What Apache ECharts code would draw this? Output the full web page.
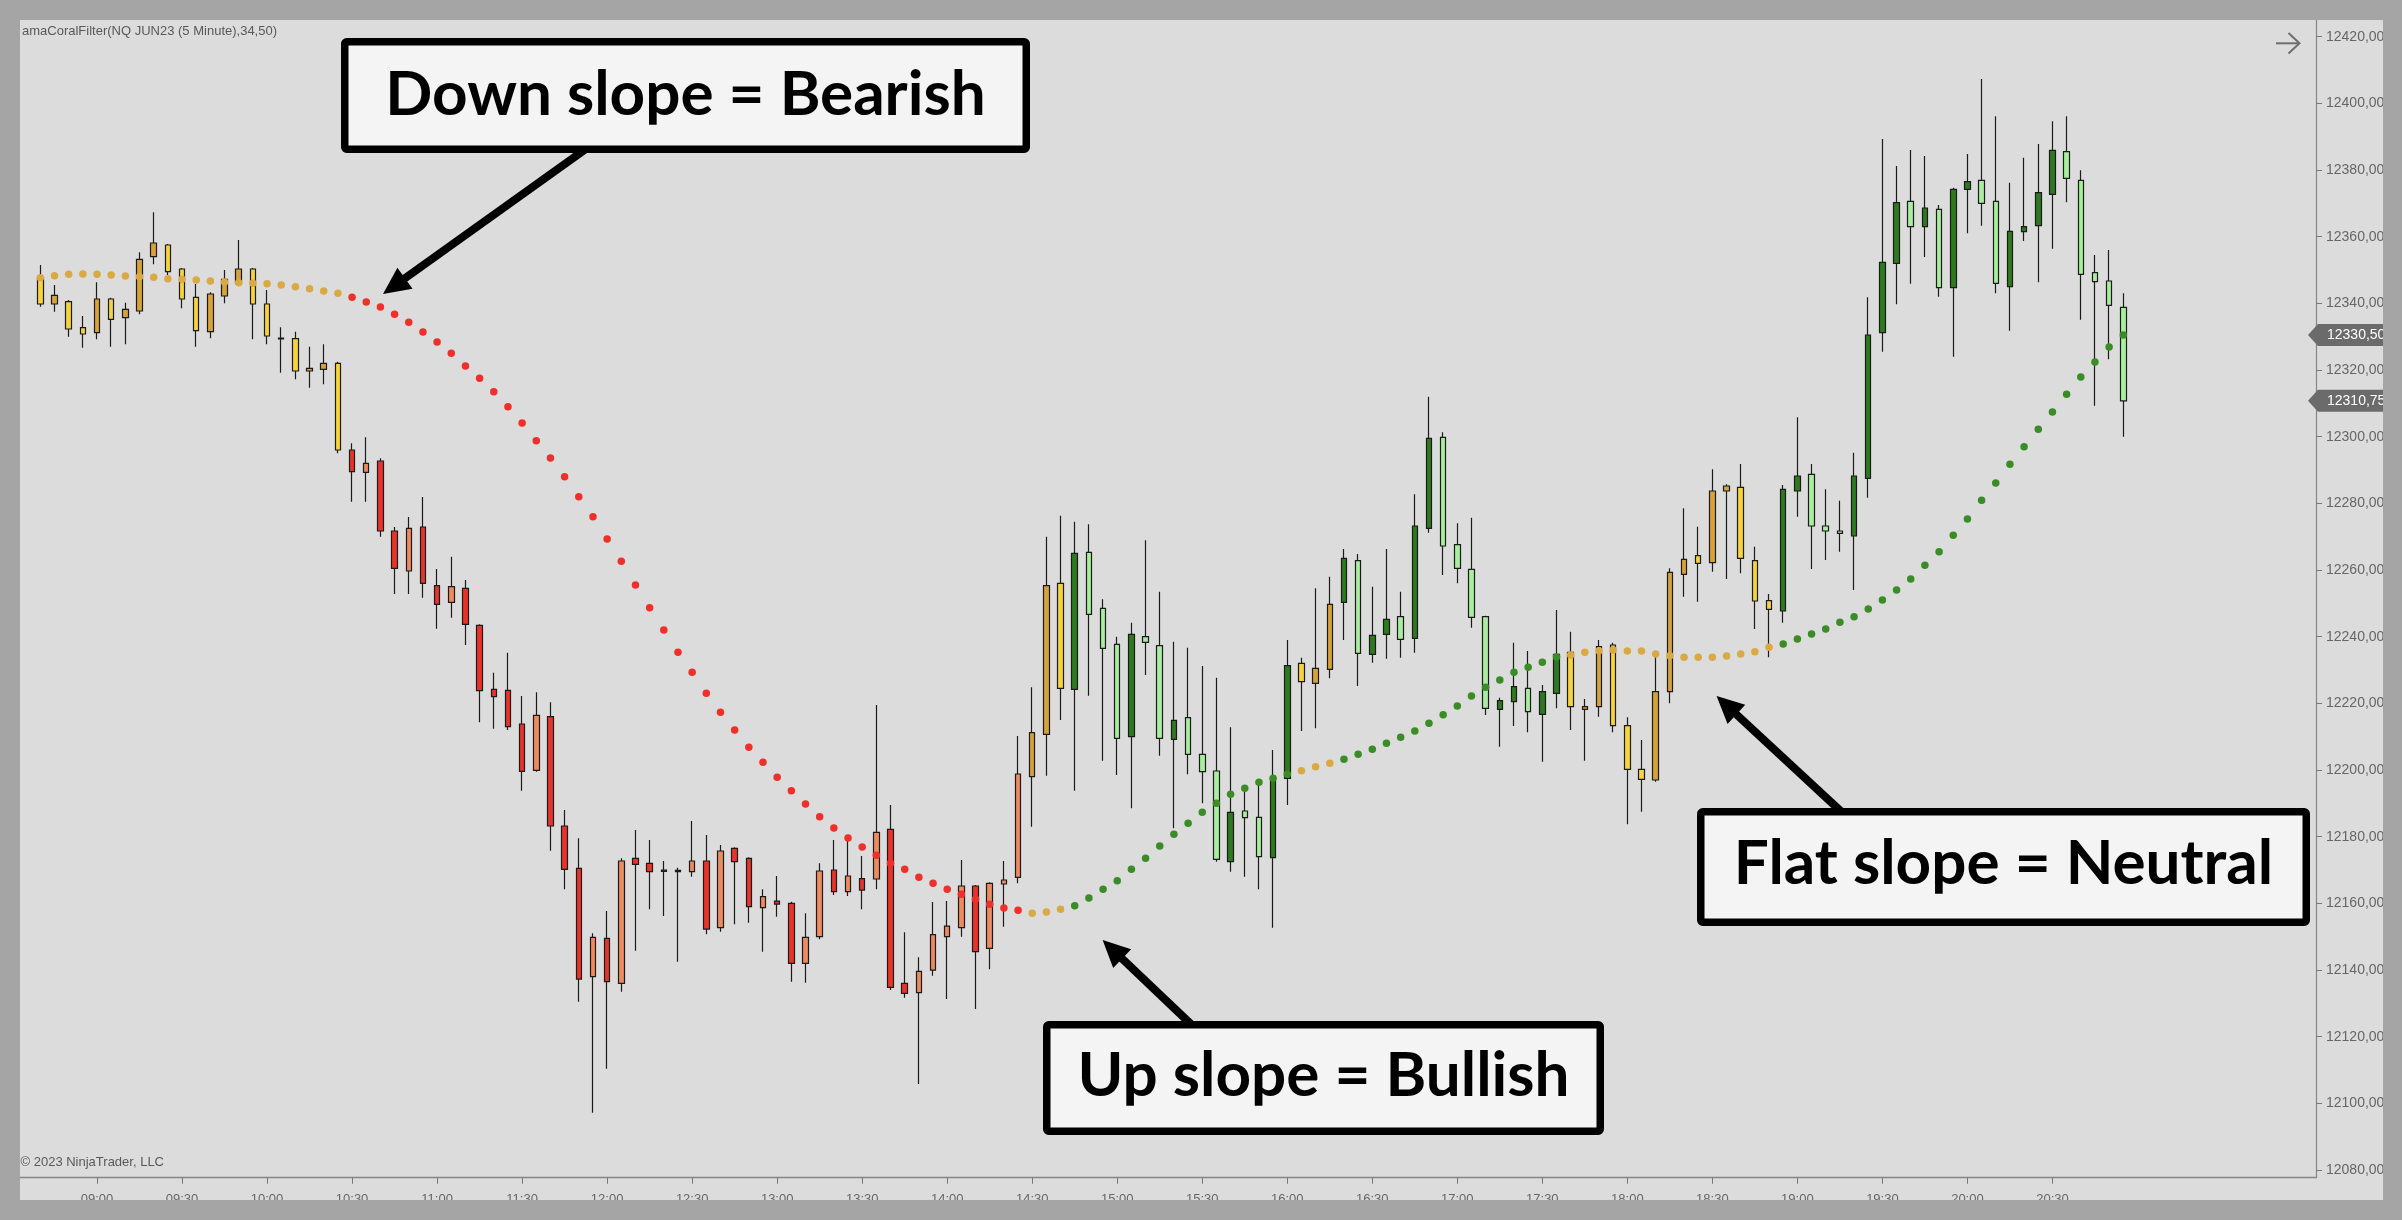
<!DOCTYPE html>
<html><head><meta charset="utf-8">
<script src="https://cdn.jsdelivr.net/npm/echarts@6/dist/echarts.min.js"></script>
<style>html,body{margin:0;padding:0;background:#dcdcdc;overflow:hidden}#c{width:2402px;height:1220px}</style>
</head><body><div id="c"></div>
<script>
// ---------------- DATA ----------------
const firstBarTime = '08:40';          // 5-minute bars
const barMinutes = 5;
const xTickLabels = ['09:00','09:30','10:00','10:30','11:00','11:30','12:00','12:30','13:00','13:30','14:00','14:30',
  '15:00','15:30','16:00','16:30','17:00','17:30','18:00','18:30','19:00','19:30','20:00','20:30'];
const yTickValues = [12080,12100,12120,12140,12160,12180,12200,12220,12240,12260,12280,12300,12320,12340,12360,12380,12400,12420];

const opens = [12347.7,12339.8,12340.5,12332.7,
 12331.2,12341.3,12335.7,12337.7,12354.0,12357.5,12350.3,12341.8,12331.5,12342.2,
 12346.0,12350.3,12339.8,12329.6,12329.4,12319.7,12320.2,12322.0,12296.0,12289.3,
 12292.7,12271.7,12259.7,12272.9,12255.3,12250.3,12254.5,12243.4,12224.2,12223.9,
 12213.8,12199.9,12216.0,12183.2,12170.5,12138.0,12149.5,12136.0,12173.5,12172.0,
 12170.0,12169.9,12169.5,12172.7,12152.7,12176.5,12173.5,12158.7,12160.7,12160.0,
 12142.0,12150.0,12170.0,12163.5,12167.4,12167.3,12182.2,12136.0,12133.2,12140.0,
 12150.0,12152.7,12165.2,12146.5,12165.8,12167.8,12198.0,12210.7,12256.0,12224.2,
 12265.3,12248.5,12237.7,12210.0,12240.0,12237.3,12209.2,12215.7,12204.7,12199.7,
 12172.5,12187.7,12185.8,12173.7,12197.5,12232.0,12226.0,12230.2,12250.3,12262.8,
 12234.7,12240.7,12246.0,12239.5,12272.5,12299.8,12267.6,12260.2,12246.0,12218.2,
 12220.5,12224.5,12216.7,12223.0,12235.3,12218.2,12219.0,12237.5,12213.3,12200.2,
 12197.0,12223.5,12258.7,12264.3,12262.2,12283.7,12284.8,12262.8,12250.8,12247.7,
 12283.7,12288.7,12273.2,12271.7,12270.2,12287.5,12331.2,12352.0,12370.6,12363.0,
 12368.2,12344.7,12374.2,12376.9,12370.6,12345.0,12361.5,12363.3,12372.7,12385.5,
 12376.9,12349.2,12346.7,12338.8];
const highs = [12351.5,12345.5,12341.0,12336.2,
 12346.3,12341.7,12340.2,12355.3,12367.3,12357.8,12350.6,12345.8,12343.3,12350.0,
 12359.0,12350.6,12344.0,12332.8,12331.5,12327.0,12327.7,12322.5,12298.0,12299.8,
 12293.5,12272.9,12275.9,12281.9,12260.3,12264.0,12257.0,12243.7,12229.2,12235.2,
 12222.2,12223.3,12220.3,12188.0,12179.5,12151.0,12157.7,12173.5,12182.0,12179.0,
 12172.7,12170.7,12184.7,12180.5,12177.5,12176.8,12173.8,12164.2,12168.2,12160.5,
 12157.0,12172.0,12179.0,12179.0,12174.2,12219.5,12189.5,12151.3,12143.8,12160.4,
 12160.7,12173.0,12165.5,12166.3,12172.7,12210.2,12224.8,12270.0,12276.3,12274.5,
 12273.7,12251.2,12240.0,12244.2,12268.9,12253.5,12238.5,12236.7,12231.2,12227.7,
 12212.8,12194.5,12196.3,12206.0,12239.0,12233.7,12254.5,12258.0,12266.3,12264.8,
 12255.0,12266.3,12253.5,12282.7,12312.0,12301.3,12274.0,12275.7,12246.3,12221.7,
 12238.2,12235.7,12225.5,12248.0,12241.5,12221.3,12239.0,12238.2,12215.8,12209.0,
 12234.0,12260.5,12278.5,12273.0,12290.2,12285.7,12291.8,12267.0,12252.8,12285.5,
 12305.8,12291.8,12284.2,12280.8,12295.2,12341.8,12389.3,12381.2,12386.0,12384.2,
 12369.5,12374.7,12384.8,12407.3,12396.1,12376.2,12383.7,12387.8,12394.6,12396.1,
 12379.9,12354.5,12356.0,12343.0];
const lows = [12339.0,12337.5,12330.0,12326.7,
 12329.2,12327.0,12327.7,12336.7,12351.7,12348.5,12338.5,12327.0,12329.5,12340.0,
 12345.5,12329.2,12327.7,12319.2,12317.2,12314.7,12315.7,12295.0,12280.5,12280.5,
 12270.0,12252.8,12252.8,12251.7,12242.4,12245.7,12237.5,12214.3,12212.4,12212.0,
 12193.8,12199.5,12175.8,12164.2,12130.5,12097.2,12110.4,12133.5,12145.8,12158.2,
 12156.2,12142.5,12168.0,12150.7,12151.5,12153.7,12154.2,12145.5,12156.0,12136.5,
 12136.2,12149.2,12162.5,12162.2,12158.2,12164.2,12134.0,12131.7,12105.8,12138.3,
 12131.3,12150.0,12128.3,12140.2,12153.0,12166.0,12183.0,12198.3,12215.0,12193.8,
 12222.3,12202.8,12198.5,12188.5,12228.5,12204.3,12182.5,12198.7,12190.0,12172.5,
 12169.5,12168.0,12164.2,12152.7,12189.5,12211.7,12212.5,12227.5,12239.0,12225.2,
 12232.2,12233.4,12233.7,12235.2,12271.2,12258.5,12256.0,12242.7,12216.5,12207.0,
 12213.2,12211.3,12202.5,12218.5,12212.0,12202.8,12216.0,12211.3,12183.7,12187.5,
 12196.5,12220.0,12252.0,12250.5,12259.5,12257.3,12259.0,12242.3,12233.8,12244.2,
 12276.0,12260.3,12263.0,12265.5,12254.0,12281.7,12325.5,12339.7,12345.9,12353.9,
 12342.0,12324.0,12361.0,12363.3,12343.0,12331.8,12358.7,12346.3,12356.4,12370.3,
 12335.1,12309.3,12323.2,12300.0];
const closes = [12339.8,12342.4,12332.3,12330.8,
 12341.3,12335.2,12338.2,12353.2,12358.1,12349.5,12341.3,12331.8,12342.8,12347.2,
 12350.3,12339.8,12330.2,12329.3,12319.7,12320.5,12322.0,12296.0,12289.5,12292.0,
 12271.7,12260.5,12272.5,12256.0,12249.7,12255.0,12243.7,12223.8,12222.0,12213.0,
 12199.6,12216.4,12183.2,12170.2,12137.3,12149.8,12136.5,12172.7,12171.7,12169.5,
 12169.6,12169.5,12172.7,12152.3,12175.7,12172.5,12159.0,12162.0,12159.8,12142.0,
 12149.8,12169.7,12163.5,12168.2,12164.0,12181.3,12134.8,12133.0,12139.6,12150.6,
 12153.2,12165.2,12145.5,12166.0,12167.0,12198.8,12211.2,12255.3,12224.5,12265.0,
 12246.7,12236.5,12209.5,12240.7,12238.3,12209.5,12214.9,12204.7,12199.5,12173.2,
 12187.3,12185.7,12174.0,12197.5,12231.3,12226.5,12230.5,12249.7,12263.5,12235.0,
 12240.4,12245.2,12239.2,12273.2,12299.5,12267.2,12260.5,12245.8,12218.5,12220.8,
 12225.0,12217.5,12223.5,12234.7,12219.0,12219.0,12237.0,12213.3,12200.2,12197.2,
 12223.5,12259.3,12263.2,12262.0,12283.7,12285.2,12263.5,12250.7,12248.2,12284.2,
 12288.2,12273.2,12271.7,12271.0,12288.2,12330.5,12352.3,12370.2,12363.0,12368.6,
 12344.7,12374.2,12376.5,12370.0,12346.0,12361.6,12363.0,12373.2,12385.9,12377.5,
 12348.7,12346.5,12339.4,12310.75];
// amaCoralFilter values
const coral = [12347.7,12348.3,12348.7,12348.8,
 12348.7,12348.5,12348.2,12348.0,12347.8,12347.4,12347.2,12347.0,12346.7,12346.4,
 12346.2,12346.0,12345.9,12345.5,12345.0,12344.4,12343.7,12343.0,12341.8,12340.4,
 12338.9,12336.7,12334.3,12331.4,12328.4,12325.0,12321.2,12317.5,12313.5,12309.0,
 12304.1,12298.8,12293.6,12288.0,12282.0,12276.0,12269.3,12262.6,12255.5,12248.7,
 12242.0,12235.3,12229.3,12223.0,12217.3,12212.0,12206.8,12202.3,12197.8,12193.8,
 12189.8,12186.0,12182.6,12179.6,12176.9,12174.4,12172.0,12170.2,12167.8,12166.0,
 12164.2,12162.7,12161.2,12159.7,12158.6,12157.9,12157.0,12157.4,12158.2,12159.3,
 12161.6,12164.2,12166.8,12170.2,12173.5,12177.2,12180.7,12184.0,12187.3,12190.0,
 12192.7,12194.5,12196.3,12197.5,12198.7,12199.8,12201.0,12202.0,12203.2,12204.7,
 12206.2,12208.0,12209.8,12211.7,12214.0,12216.6,12219.2,12222.2,12224.8,12227.0,
 12229.3,12230.8,12232.3,12233.9,12234.5,12235.3,12235.8,12236.0,12235.7,12235.7,
 12234.8,12234.3,12233.8,12233.8,12233.8,12234.2,12234.8,12235.5,12236.8,12237.8,
 12239.3,12240.8,12242.3,12244.3,12246.0,12248.3,12251.0,12254.0,12257.3,12261.4,
 12265.5,12270.4,12275.3,12280.9,12286.1,12291.7,12297.0,12302.2,12307.4,12312.7,
 12317.9,12322.4,12326.9,12330.5];
// slope state runs: N = flat/neutral, D = down/bearish, U = up/bullish
const coralStateRuns = [['N',22],['D',48],['N',3],['U',16],['N',3],['U',16],['N',15],['U',25]];

// ---------------- STYLE ----------------
const candleColors = {
  N: {up:'#d6a33b', down:'#f7d43a'},
  D: {up:'#ee8a5f', down:'#e8332a'},
  U: {up:'#2e7a1f', down:'#a9eea0'}
};
const dotColors = {N:'#d9a944', D:'#ee2f2a', U:'#3a8c27'};

// ---------------- BUILD ----------------
const toMin = s => { const p = s.split(':'); return (+p[0])*60 + (+p[1]); };
const baseMin = toMin(xTickLabels[0]);
const states = [];
coralStateRuns.forEach(r => { for (let k = 0; k < r[1]; k++) states.push(r[0]); });
const startMin = toMin(firstBarTime);
const barX = opens.map((_, k) => (startMin + k*barMinutes - baseMin) / barMinutes);
const tickPos = xTickLabels.map(s => (toMin(s) - baseMin) / barMinutes);

const candleData = opens.map((o, k) => {
  const c = closes[k];
  const col = candleColors[states[k]][c > o ? 'up' : 'down'];
  return {value:[barX[k], o, c, lows[k], highs[k]],
    itemStyle:{color:col, color0:col, borderColor:'#1b1b1b', borderColor0:'#1b1b1b', borderColorDoji:'#1b1b1b', borderWidth:1.2}};
});
const dotData = coral.map((v, k) => ({value:[barX[k], v], itemStyle:{color:dotColors[states[k]], opacity:1}}));

const chart = echarts.init(document.getElementById('c'), null, {renderer:'canvas', width:2402, height:1220});
const fmtPrice = v => v.toFixed(2).replace('.', ',');
const axisFont = '"Liberation Sans", Arial, sans-serif';

chart.setOption({
  animation:false,
  backgroundColor:'#dcdcdc',
  grid:{left:12, right:86, top:20, bottom:42.3},
  xAxis:{type:'value', min:-6, max:156.6,
    axisLine:{show:true, onZero:false, lineStyle:{color:'#858585', width:1.3}},
    axisTick:{show:true, customValues:tickPos, length:6, lineStyle:{color:'#777', width:1}},
    axisLabel:{customValues:tickPos, formatter:(v)=>{const i = tickPos.indexOf(v); return i>=0 ? xTickLabels[i] : '';},
      color:'#666', fontSize:13, margin:15, fontFamily:axisFont},
    splitLine:{show:false}},
  yAxis:{type:'value', position:'right', min:12077.7, max:12425,
    axisLine:{show:true, onZero:false, lineStyle:{color:'#858585', width:1.2}},
    axisTick:{show:true, customValues:yTickValues, length:6, lineStyle:{color:'#777', width:1}},
    axisLabel:{customValues:yTickValues, formatter:fmtPrice, color:'#666', fontSize:14, margin:10, fontFamily:axisFont},
    splitLine:{show:false}},
  series:[
    {type:'candlestick', barWidth:6, data:candleData, z:2},
    {type:'scatter', symbol:'circle', symbolSize:7.5, data:dotData, z:3}
  ]
});

// ---------------- ANNOTATIONS ----------------
function arrow(tail, tip, lw, headLen, headHalf) {
  const dx = tip[0]-tail[0], dy = tip[1]-tail[1];
  const L = Math.hypot(dx, dy), ux = dx/L, uy = dy/L;
  const bx = tip[0]-ux*headLen, by = tip[1]-uy*headLen;
  const px = -uy, py = ux;
  return [
    {type:'line', z:50, shape:{x1:tail[0], y1:tail[1], x2:bx+ux*3, y2:by+uy*3}, style:{stroke:'#000', lineWidth:lw}},
    {type:'polygon', z:50, shape:{points:[[tip[0],tip[1]],[bx+px*headHalf, by+py*headHalf],[bx-px*headHalf, by-py*headHalf]]}, style:{fill:'#000'}}
  ];
}
function box(x0, y0, x1, y1, text, ty) {
  const bw = 7.5;
  return [
    {type:'rect', z:60, shape:{x:x0+bw/2, y:y0+bw/2, width:x1-x0-bw, height:y1-y0-bw, r:2}, style:{fill:'#f4f4f4', stroke:'#000', lineWidth:bw}},
    {type:'text', z:61, style:{text:text, x:(x0+x1)/2, y:ty, font:'bold 62px Lato, "Open Sans", sans-serif', fill:'#000', align:'center', verticalAlign:'middle'}}
  ];
}

const axisRightX = chart.convertToPixel({xAxisIndex:0}, 156.6);
function priceTag(val) {
  const y = chart.convertToPixel({yAxisIndex:0}, val);
  const x = axisRightX - 8;
  return [
    {type:'polygon', z:40, shape:{points:[[x,y],[x+10,y-11],[2402,y-11],[2402,y+11],[x+10,y+11]]}, style:{fill:'#6b6b6b'}},
    {type:'text', z:41, style:{text:fmtPrice(val), x:x+19, y:y, font:'14px ' + axisFont, fill:'#ffffff', align:'left', verticalAlign:'middle'}}
  ];
}

const frame = '#a5a5a5';
const g = [];
g.push(...arrow([590,146],[383,294],8,27,13));
g.push(...arrow([1195,1028],[1102.6,940],8,27,13));
g.push(...arrow([1846,816],[1716.6,696],8,27,13));
g.push(...box(341,38,1030,153,'Down slope = Bearish',94.5));
g.push(...box(1043,1021,1604,1135,'Up slope = Bullish',1076));
g.push(...box(1697,808,2310,926,'Flat slope = Neutral',864));
g.push(...priceTag(coral[coral.length-1]));
g.push(...priceTag(closes[closes.length-1]));
g.push({type:'text', z:30, style:{text:'amaCoralFilter(NQ JUN23 (5 Minute),34,50)', x:22, y:31, font:'13px ' + axisFont, fill:'#595959', align:'left', verticalAlign:'middle'}});
g.push({type:'text', z:30, style:{text:'\u00a9 2023 NinjaTrader, LLC', x:20.5, y:1162, font:'13px ' + axisFont, fill:'#595959', align:'left', verticalAlign:'middle'}});
// top-right arrow icon
g.push({type:'polyline', z:30, shape:{points:[[2276,43.3],[2299,43.3]]}, style:{stroke:'#6e6e6e', lineWidth:2, fill:null}});
g.push({type:'polyline', z:30, shape:{points:[[2288.5,33],[2299.5,43.3],[2288.5,53.5]]}, style:{stroke:'#6e6e6e', lineWidth:2, fill:null}});
// outer frame
g.push({type:'rect', z:100, shape:{x:0,y:0,width:2402,height:20}, style:{fill:frame}});
g.push({type:'rect', z:100, shape:{x:0,y:1200,width:2402,height:20}, style:{fill:frame}});
g.push({type:'rect', z:100, shape:{x:0,y:0,width:20,height:1220}, style:{fill:frame}});
g.push({type:'rect', z:100, shape:{x:2383,y:0,width:19,height:1220}, style:{fill:frame}});

chart.setOption({graphic:g});
</script>
</body></html>
